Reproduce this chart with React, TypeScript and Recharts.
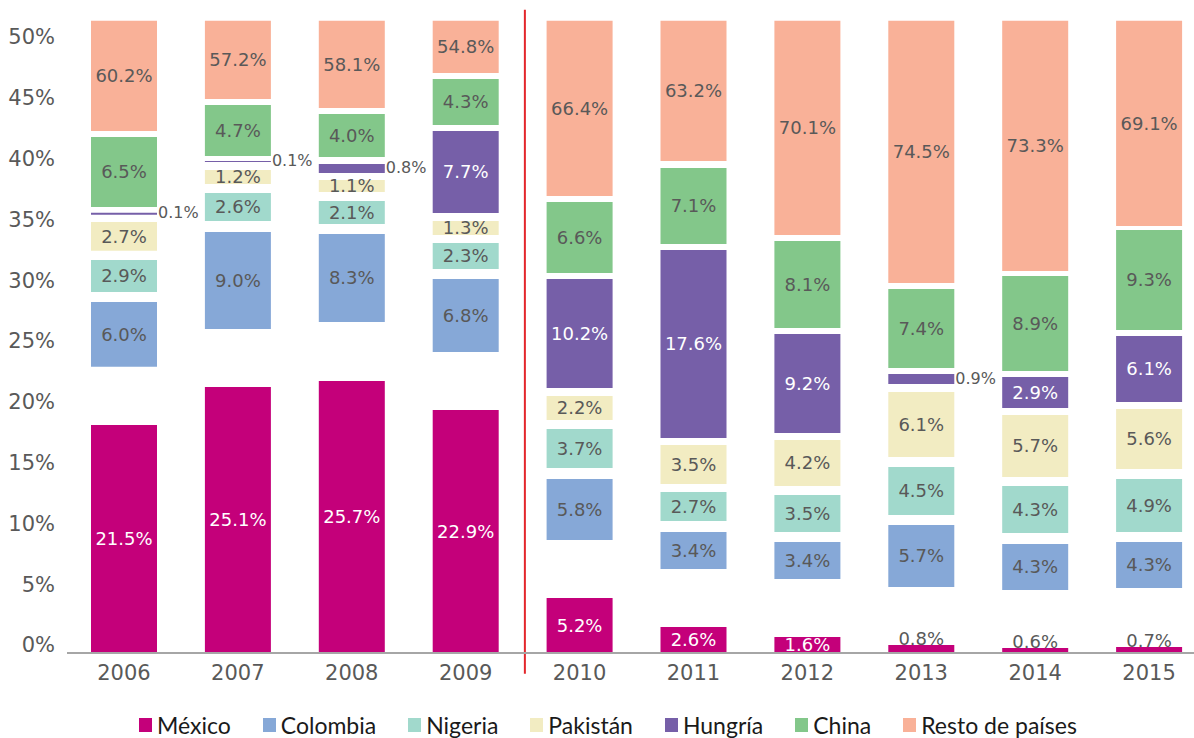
import React from "react";
import { BarChart, Bar, XAxis, YAxis, LabelList, ReferenceLine } from "recharts";

const years = ["2006", "2007", "2008", "2009", "2010", "2011", "2012", "2013", "2014", "2015"];
const names = ["México", "Colombia", "Nigeria", "Pakistán", "Hungría", "China", "Resto de países"];
const colors = ["#C4007A", "#86A8D7", "#A1D9CC", "#F2ECC2", "#765FA8", "#83C78A", "#F9B198"];
const yTicks = [0, 5, 10, 15, 20, 25, 30, 35, 40, 45, 50];

// printed shares (%)
const mexicoPct = [21.5, 25.1, 25.7, 22.9, 5.2, 2.6, 1.6, 0.8, 0.6, 0.7];
const colombiaPct = [6.0, 9.0, 8.3, 6.8, 5.8, 3.4, 3.4, 5.7, 4.3, 4.3];
const nigeriaPct = [2.9, 2.6, 2.1, 2.3, 3.7, 2.7, 3.5, 4.5, 4.3, 4.9];
const pakistanPct = [2.7, 1.2, 1.1, 1.3, 2.2, 3.5, 4.2, 6.1, 5.7, 5.6];
const hungriaPct = [0.1, 0.1, 0.8, 7.7, 10.2, 17.6, 9.2, 0.9, 2.9, 6.1];
const chinaPct = [6.5, 4.7, 4.0, 4.3, 6.6, 7.1, 8.1, 7.4, 8.9, 9.3];
const restoPct = [60.2, 57.2, 58.1, 54.8, 66.4, 63.2, 70.1, 74.5, 73.3, 69.1];

// where each block sits on the drawn axis: [bottom, top]
const mexicoBox = [[0, 18.75], [0, 21.88], [0, 22.37], [0, 19.98], [0, 4.52], [0, 2.14], [0, 1.32], [0, 0.66], [0, 0.41], [0, 0.49]];
const colombiaBox = [[23.54, 28.87], [26.64, 34.62], [27.22, 34.46], [24.75, 30.76], [9.29, 14.31], [6.91, 9.95], [6.09, 9.13], [5.43, 10.53], [5.18, 8.96], [5.35, 9.13]];
const nigeriaBox = [[29.69, 32.32], [35.53, 37.83], [35.28, 37.17], [31.58, 33.72], [15.21, 18.42], [10.86, 13.24], [9.95, 12.99], [11.35, 15.3], [9.87, 13.73], [9.95, 14.31]];
const pakistanBox = [[33.08, 35.44], [38.57, 39.72], [37.91, 38.9], [34.38, 35.53], [19.16, 21.13], [13.9, 17.11], [13.73, 17.52], [16.12, 21.46], [14.47, 19.57], [15.13, 20.07]];
const hungriaBox = [[36.04, 36.21], [40.38, 40.46], [39.47, 40.21], [36.18, 42.93], [21.79, 30.76], [17.68, 33.14], [18.09, 26.23], [22.12, 22.94], [20.15, 22.7], [20.64, 26.07]];
const chinaBox = [[36.68, 42.43], [40.87, 45.07], [40.79, 44.33], [43.42, 47.2], [31.25, 37.09], [33.63, 39.88], [26.73, 33.88], [23.44, 29.93], [23.19, 31.0], [26.56, 34.79]];
const restoBox = [[42.93, 52], [45.56, 52], [44.82, 52], [47.7, 52], [37.58, 52], [40.46, 52], [34.38, 52], [30.43, 52], [31.41, 52], [35.11, 52]];

const pctSeries = [mexicoPct, colombiaPct, nigeriaPct, pakistanPct, hungriaPct, chinaPct, restoPct];
const boxSeries = [mexicoBox, colombiaBox, nigeriaBox, pakistanBox, hungriaBox, chinaBox, restoBox];

const data = years.map((year, i) => {
  const row: Record<string, number | string> = { year, idx: i };
  let prevTop = 0;
  boxSeries.forEach((boxes, s) => {
    const [lo, hi] = boxes[i];
    row[`gap${s}`] = lo - prevTop;
    row[`s${s}`] = hi - lo;
    prevTop = hi;
  });
  return row;
});

const FONT = "'DejaVu Sans', sans-serif";
const GREY = "#595959";

const makeLabel = (s: number) => (props: any) => {
  const { x, y, width, height, index } = props;
  const text = `${pctSeries[s][index].toFixed(1)}%`;
  const small = height < 12;
  if (small && s === 0) {
    return (
      <text x={x + width / 2} y={y - 6} dy="0.35em" textAnchor="middle" fontSize={18} fill={GREY} fontFamily={FONT}>
        {text}
      </text>
    );
  }
  if (small) {
    return (
      <text x={x + width + 1} y={y + height / 2 - 1} dy="0.35em" textAnchor="start" fontSize={16} fill={GREY} fontFamily={FONT}>
        {text}
      </text>
    );
  }
  const light = s === 0 || s === 4;
  return (
    <text x={x + width / 2} y={y + height / 2} dy="0.35em" textAnchor="middle" fontSize={18} fill={light ? "#ffffff" : GREY} fontFamily={FONT}>
      {text}
    </text>
  );
};

const YTick = ({ x, y, payload }: any) => (
  <text x={x - 12} y={y - 8} dy="0.35em" textAnchor="end" fontSize={21} fill={GREY} fontFamily={FONT}>
    {payload.value}%
  </text>
);

const XTick = ({ x, y, payload }: any) => (
  <text x={x} y={y + 20} dy="0.35em" textAnchor="middle" fontSize={21} fill={GREY} fontFamily={FONT}>
    {payload.value}
  </text>
);

export default function App() {
  return (
    <div style={{ position: "absolute", left: 0, top: 0, width: 1194, height: 738, overflow: "hidden", background: "#fff" }}>
      <BarChart width={1210} height={738} data={data} margin={{ top: 20.7, right: 4, bottom: 30, left: 0 }} barSize={66}>
        <XAxis
          dataKey="year"
          axisLine={{ stroke: "#A6A6A6", strokeWidth: 2 }}
          tickLine={false}
          tickSize={0}
          tickMargin={0}
          height={55}
          interval={0}
          tick={<XTick />}
        />
        {/* hidden numeric axis so the 2009|2010 divider can sit between bands */}
        <XAxis xAxisId="sep" dataKey="idx" type="number" domain={[-0.5, 9.5]} allowDataOverflow hide />
        <YAxis
          domain={[0, 52]}
          ticks={yTicks}
          interval={0}
          axisLine={false}
          tickLine={false}
          tickSize={0}
          tickMargin={0}
          width={67}
          tick={<YTick />}
        />
        {boxSeries.flatMap((_, s) => [
          <Bar key={`gap${s}`} dataKey={`gap${s}`} stackId="a" fill="transparent" isAnimationActive={false} />,
          <Bar key={`s${s}`} dataKey={`s${s}`} name={names[s]} stackId="a" fill={colors[s]} isAnimationActive={false}>
            <LabelList dataKey={`s${s}`} content={makeLabel(s)} />
          </Bar>,
        ])}
        <ReferenceLine
          xAxisId="sep"
          segment={[{ x: 3.52, y: 52.9 }, { x: 3.52, y: -1.7 }]}
          stroke="#E3262B"
          strokeWidth={2}
          ifOverflow="visible"
        />
      </BarChart>
      <div
        style={{
          position: "absolute",
          left: 139,
          top: 712,
          height: 26,
          display: "flex",
          alignItems: "center",
          gap: 32,
          fontFamily: "Lato, sans-serif",
          fontSize: 23,
          color: "#1a1a1a",
        }}
      >
        {names.map((n, s) => (
          <div key={n} style={{ display: "flex", alignItems: "center" }}>
            <span style={{ width: 13, height: 14, background: colors[s], marginRight: 5, display: "inline-block" }} />
            <span>{n}</span>
          </div>
        ))}
      </div>
    </div>
  );
}
